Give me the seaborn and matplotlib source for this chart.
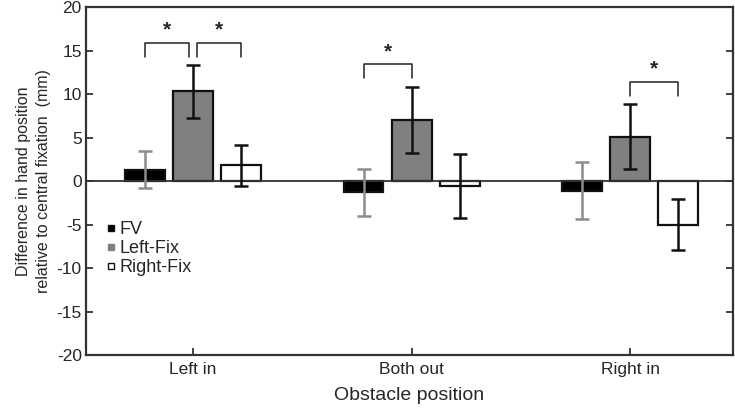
import numpy as np
import pandas as pd
import matplotlib
matplotlib.use('Agg')
import matplotlib.pyplot as plt
import seaborn as sns
from matplotlib.lines import Line2D

# 資料
groups = ['Left in', 'Both out', 'Right in']
conditions = ['FV', 'Left-Fix', 'Right-Fix']
fv_mean = [1.3, -1.3, -1.1]
fv_err = [2.1, 2.7, 3.3]
left_fix_mean = [10.3, 7.0, 5.1]
left_fix_err = [3.0, 3.8, 3.7]
right_fix_mean = [1.8, -0.6, -5.0]
right_fix_err = [2.4, 3.7, 2.95]
# 顯著差異 (組別, 條件A, 條件B)
sig_pairs = [('Left in', 'FV', 'Left-Fix'),
             ('Left in', 'Left-Fix', 'Right-Fix'),
             ('Both out', 'FV', 'Left-Fix'),
             ('Right in', 'Left-Fix', 'Right-Fix')]

means = {'FV': fv_mean, 'Left-Fix': left_fix_mean, 'Right-Fix': right_fix_mean}
errs = {'FV': fv_err, 'Left-Fix': left_fix_err, 'Right-Fix': right_fix_err}

rows = []
for c in conditions:
    for g, m, e in zip(groups, means[c], errs[c]):
        rows.append({'group': g, 'cond': c, 'mean': m, 'err': e})
df = pd.DataFrame(rows)

sns.set_style('white')
plt.rcParams['font.family'] = ['Liberation Sans', 'DejaVu Sans']
plt.rcParams['axes.unicode_minus'] = False

fig = plt.figure(figsize=(7.35, 4.12), dpi=100)
ax = fig.add_axes([0.117, 0.138, 0.880, 0.845])

palette = {'FV': '#000000', 'Left-Fix': '#808080', 'Right-Fix': '#ffffff'}
sns.barplot(data=df, x='group', y='mean', hue='cond', order=groups,
            hue_order=conditions, palette=palette, width=0.66, gap=0.17,
            edgecolor='#111111', linewidth=1.6, errorbar=None,
            saturation=1, legend=False, ax=ax)

# 誤差線
err_colors = {'FV': '#8c8c8c', 'Left-Fix': '#111111', 'Right-Fix': '#111111'}
centers = {}
for c, cont in zip(conditions, ax.containers):
    xs = [b.get_x() + b.get_width() / 2 for b in cont]
    for g, x in zip(groups, xs):
        centers[(g, c)] = x
    ax.errorbar(xs, means[c], yerr=errs[c], fmt='none', ecolor=err_colors[c],
                elinewidth=1.8, capsize=5, capthick=1.8, zorder=4)

ax.axhline(0, color='#333333', lw=1.3, zorder=3)

# 顯著性括號
for g, a, b in sig_pairs:
    gi = groups.index(g)
    top = max(means[a][gi] + errs[a][gi], means[b][gi] + errs[b][gi])
    y0 = top + 1.0
    y1 = y0 + 1.6
    xa, xb = centers[(g, a)], centers[(g, b)]
    if a == 'Left-Fix' and g == 'Left in':
        xa += 0.02
    if b == 'Left-Fix' and g == 'Left in':
        xb -= 0.02
    ax.plot([xa, xa, xb, xb], [y0, y1, y1, y0], color='#222222', lw=1.1)
    ax.text((xa + xb) / 2, y1 + 0.4, '*', ha='center', va='bottom',
            fontsize=15, fontweight='bold')

ax.set_xlim(-0.49, 2.47)
ax.set_ylim(-20, 20)
ax.set_yticks(np.arange(-20, 21, 5))
ax.set_xlabel('Obstacle position', fontsize=14, labelpad=7)
ax.set_ylabel('Difference in hand position\nrelative to central fixation  (mm)',
              fontsize=11.5, labelpad=4, linespacing=1.45)
ax.tick_params(axis='both', labelsize=12.5, direction='in', length=5,
               width=1.3, color='#333333')
ax.tick_params(axis='y', right=True, left=True, pad=3)
ax.tick_params(axis='x', bottom=True, pad=5)
for s in ax.spines.values():
    s.set_color('#333333')
    s.set_linewidth(1.6)

handles = [Line2D([], [], marker='s', ls='none', markersize=5,
                  markerfacecolor=palette[c], markeredgecolor='#111111',
                  markeredgewidth=1) for c in conditions]
handles[1].set_markeredgecolor('#808080')
ax.legend(handles, conditions, loc='upper left', bbox_to_anchor=(0.018, 0.41),
          frameon=False, fontsize=13, handlelength=0.5, handletextpad=0.2,
          labelspacing=0.1, borderpad=0)

fig.savefig('out.png', dpi=100)
